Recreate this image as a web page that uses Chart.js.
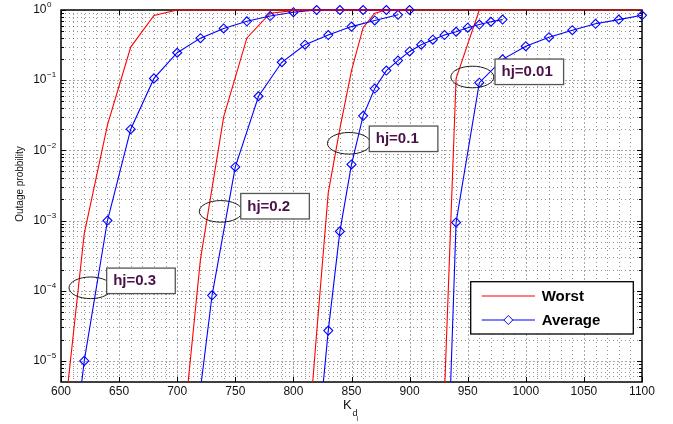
<!DOCTYPE html>
<html>
<head>
<meta charset="utf-8">
<script src="https://cdn.jsdelivr.net/npm/chart.js@4.4.0/dist/chart.umd.min.js"></script>
<style>
  html, body { margin: 0; padding: 0; background: #fff; }
</style>
</head>
<body>
<canvas id="chart" width="673" height="424"></canvas>
<script>
// values: K_di on x, outage probability on y
const kAvg03 = [600, 620, 640, 660, 680, 700, 720, 740, 760, 780, 800, 820, 840, 860, 880, 900];
const pAvg03 = [1.6e-8, 1e-5, 1e-3, 0.02, 0.106, 0.246, 0.397, 0.546, 0.69, 0.82, 0.93, 1, 1, 1, 1, 1];

const kAvg02 = [710, 730, 750, 770, 790, 810, 830, 850, 870, 890];
const pAvg02 = [1.8e-7, 8.6e-5, 5.8e-3, 0.059, 0.18, 0.32, 0.44, 0.58, 0.71, 0.855];

const kAvg01 = [820, 830, 840, 850, 860, 870, 880, 890, 900, 910, 920, 930, 940, 950, 960, 970, 980];
const pAvg01 = [5e-7, 2.7e-5, 7e-4, 6.3e-3, 0.031, 0.076, 0.137, 0.19, 0.257, 0.32, 0.377, 0.44, 0.49, 0.56, 0.62, 0.68, 0.73];

const kAvg001 = [920, 940, 960, 980, 1000, 1020, 1040, 1060, 1080, 1100];
const pAvg001 = [1.4e-13, 9.4e-4, 0.092, 0.198, 0.305, 0.41, 0.516, 0.636, 0.73, 0.84];

const kWorst03 = [600, 620, 640, 660, 680, 700, 720, 740, 760, 780, 800, 820, 840, 860, 880, 900];
const pWorst03 = [5.8e-7, 6.5e-4, 0.023, 0.296, 0.835, 1, 1, 1, 1, 1, 1, 1, 1, 1, 1, 1];

const kWorst02 = [700, 720, 740, 760, 780, 800, 820, 840, 860, 880, 900];
const pWorst02 = [1.4e-7, 2.8e-4, 0.03, 0.40, 0.90, 0.98, 1, 1, 1, 1, 1];

const kWorst01 = [810, 820, 830, 840, 850, 860, 870, 880, 900, 920, 940, 960, 980];
const pWorst01 = [2.1e-7, 2.5e-5, 2.5e-3, 0.0204, 0.137, 0.56, 0.9, 1, 1, 1, 1, 1, 1];

const kWorst001 = [920, 930, 940, 950, 960, 980, 1000, 1020, 1040, 1060, 1080, 1100];
const pWorst001 = [1e-10, 3.4e-6, 0.105, 0.326, 1, 1, 1, 1, 1, 1, 1, 1];

const xTicks = [600, 650, 700, 750, 800, 850, 900, 950, 1000, 1050, 1100];
const yDecades = [-5, -4, -3, -2, -1, 0];

// callouts: ellipse centre and box corner, both in data units
const callouts = [
  { text: 'hj=0.3',  ek: 625.4, ep: 1.1e-4,  bk: 639.3, bp: 2.1e-4 },
  { text: 'hj=0.2',  ek: 737.5, ep: 1.35e-3, bk: 754.7, bp: 2.43e-3 },
  { text: 'hj=0.1',  ek: 847.8, ep: 0.0126,  bk: 865.3, bp: 0.0222 },
  { text: 'hj=0.01', ek: 954,   ep: 0.111,   bk: 973.5, bp: 0.2 }
];

const FONT = "'Liberation Sans', Arial, Helvetica, sans-serif";
const RED = '#ff0000';
const BLUE = '#0000ff';

const pts = (ks, ps) => ks.map((k, i) => ({ x: k, y: ps[i] }));
const clipBox = { left: 0, top: 6, right: 6, bottom: 0 };

function worst(ks, ps) {
  return { label: 'Worst', data: pts(ks, ps), borderColor: RED, borderWidth: 1.1,
    pointRadius: 0, tension: 0, clip: clipBox };
}
function average(ks, ps) {
  return { label: 'Average', data: pts(ks, ps), borderColor: BLUE, borderWidth: 1.1,
    pointStyle: 'rectRot', pointRadius: 4.5, pointBorderWidth: 1.1,
    pointBorderColor: BLUE, pointBackgroundColor: 'rgba(0,0,0,0)', tension: 0, clip: clipBox };
}

const decor = {
  id: 'decor',
  beforeDatasetsDraw(chart) {
    const { ctx, chartArea: a, scales: { x, y } } = chart;
    ctx.save();
    ctx.lineWidth = 1;
    // vertical grid every 10
    for (let k = 610; k < 1100; k += 10) {
      const px = Math.round(x.getPixelForValue(k)) + 0.5;
      const major = k % 50 === 0;
      ctx.strokeStyle = major ? '#a8a8a8' : 'rgba(0,0,0,0.42)';
      ctx.setLineDash(major ? [2, 2] : [1, 3]);
      ctx.beginPath(); ctx.moveTo(px, a.top); ctx.lineTo(px, a.bottom); ctx.stroke();
    }
    // horizontal log grid
    for (let e = -6; e <= 0; e++) {
      for (let m = 1; m <= 9; m++) {
        const v = m * Math.pow(10, e);
        if (v <= y.min * 1.0001 || v >= y.max * 0.9999) continue;
        const py = Math.round(y.getPixelForValue(v)) + 0.5;
        const major = m === 1;
        ctx.strokeStyle = major ? '#a8a8a8' : 'rgba(0,0,0,0.42)';
        ctx.setLineDash(major ? [2, 2] : [1, 3]);
        ctx.beginPath(); ctx.moveTo(a.left, py); ctx.lineTo(a.right, py); ctx.stroke();
      }
    }
    ctx.setLineDash([]);
    // frame
    ctx.strokeStyle = '#000';
    ctx.lineWidth = 1.5;
    ctx.strokeRect(a.left, a.top, a.right - a.left, a.bottom - a.top);
    // tick marks inside
    ctx.lineWidth = 1;
    ctx.beginPath();
    xTicks.forEach(k => {
      const px = Math.round(x.getPixelForValue(k)) + 0.5;
      ctx.moveTo(px, a.bottom); ctx.lineTo(px, a.bottom - 5);
      ctx.moveTo(px, a.top); ctx.lineTo(px, a.top + 5);
    });
    for (let e = -6; e <= 0; e++) {
      for (let m = 1; m <= 9; m++) {
        const v = m * Math.pow(10, e);
        if (v < y.min || v > y.max) continue;
        const py = Math.round(y.getPixelForValue(v)) + 0.5;
        const len = m === 1 ? 5 : 3;
        ctx.moveTo(a.left, py); ctx.lineTo(a.left + len, py);
        ctx.moveTo(a.right, py); ctx.lineTo(a.right - len, py);
      }
    }
    ctx.stroke();
    ctx.restore();
  },
  afterDatasetsDraw(chart) {
    const { ctx, scales: { x, y } } = chart;
    ctx.save();
    callouts.forEach(c => {
      const ex = x.getPixelForValue(c.ek), ey = y.getPixelForValue(c.ep);
      ctx.strokeStyle = '#1a1a1a';
      ctx.lineWidth = 1;
      ctx.beginPath();
      ctx.ellipse(ex, ey, 21.5, 10.8, 0, 0, Math.PI * 2);
      ctx.stroke();
      const bx = x.getPixelForValue(c.bk), by = y.getPixelForValue(c.bp);
      ctx.fillStyle = '#fff';
      ctx.fillRect(bx, by, 68.6, 25.5);
      ctx.strokeStyle = '#555';
      ctx.lineWidth = 1.3;
      ctx.strokeRect(bx, by, 68.6, 25.5);
      ctx.fillStyle = '#4b1248';
      ctx.font = 'bold 15px ' + FONT;
      ctx.textAlign = 'left';
      ctx.textBaseline = 'middle';
      ctx.fillText(c.text, bx + 6.5, by + 13);
    });
    ctx.restore();
  },
  afterDraw(chart) {
    const { ctx, chartArea: a, scales: { x, y } } = chart;
    ctx.save();
    ctx.fillStyle = '#111';
    // x tick labels
    ctx.font = '12px ' + FONT;
    ctx.textAlign = 'center';
    ctx.textBaseline = 'middle';
    xTicks.forEach(k => ctx.fillText(String(k), x.getPixelForValue(k), a.bottom + 10));
    // y tick labels 10^e
    yDecades.forEach(e => {
      const py = y.getPixelForValue(Math.pow(10, e));
      ctx.font = '12px ' + FONT;
      ctx.textAlign = 'right';
      ctx.fillText('10', a.left - 14.5, py);
      ctx.font = '8px ' + FONT;
      ctx.textAlign = 'left';
      ctx.fillText(e === 0 ? '0' : '\u2212' + Math.abs(e), a.left - 14, py - 5);
    });
    // y title
    ctx.save();
    ctx.translate(20, 184);
    ctx.rotate(-Math.PI / 2);
    ctx.font = '10px ' + FONT;
    ctx.textAlign = 'center';
    ctx.fillText('Outage probbility', 0, 0);
    ctx.restore();
    // x title K_{d_i}
    ctx.textAlign = 'left';
    ctx.font = '13px ' + FONT;
    ctx.fillText('K', 343, 405);
    ctx.font = '9px ' + FONT;
    ctx.fillText('d', 352.5, 413.5);
    ctx.font = '7px ' + FONT;
    ctx.fillText('i', 356.5, 419);
    // legend
    const lx = a.right - 171.3, ly = a.bottom - 100.3, lw = 162.6, lh = 52.3;
    ctx.fillStyle = '#fff';
    ctx.fillRect(lx, ly, lw, lh);
    ctx.strokeStyle = '#000';
    ctx.lineWidth = 1.3;
    ctx.strokeRect(lx, ly, lw, lh);
    ctx.lineWidth = 1;
    ctx.strokeStyle = RED;
    ctx.beginPath(); ctx.moveTo(lx + 11, ly + 14.3); ctx.lineTo(lx + 64.3, ly + 14.3); ctx.stroke();
    ctx.strokeStyle = BLUE;
    ctx.beginPath(); ctx.moveTo(lx + 11, ly + 38.3); ctx.lineTo(lx + 64.3, ly + 38.3); ctx.stroke();
    const dx = lx + 37.6, dy = ly + 38.3, r = 4.5;
    ctx.beginPath();
    ctx.moveTo(dx, dy - r); ctx.lineTo(dx + r, dy); ctx.lineTo(dx, dy + r); ctx.lineTo(dx - r, dy); ctx.closePath();
    ctx.fillStyle = '#fff'; ctx.fill(); ctx.stroke();
    ctx.fillStyle = '#000';
    ctx.font = 'bold 15px ' + FONT;
    ctx.textBaseline = 'middle';
    ctx.fillText('Worst', lx + 71, ly + 15);
    ctx.fillText('Average', lx + 71, ly + 39);
    ctx.restore();
  }
};

new Chart(document.getElementById('chart'), {
  type: 'line',
  data: {
    datasets: [
      worst(kWorst03, pWorst03), average(kAvg03, pAvg03),
      worst(kWorst02, pWorst02), average(kAvg02, pAvg02),
      worst(kWorst01, pWorst01), average(kAvg01, pAvg01),
      worst(kWorst001, pWorst001), average(kAvg001, pAvg001)
    ]
  },
  options: {
    responsive: false,
    animation: false,
    devicePixelRatio: 1,
    layout: { padding: { top: 10, right: 31, bottom: 0, left: 0 } },
    plugins: { legend: { display: false }, tooltip: { enabled: false } },
    scales: {
      x: {
        type: 'linear', min: 600, max: 1100,
        grid: { display: false }, border: { display: false },
        ticks: { display: false },
        afterFit(s) { s.height = 42; }
      },
      y: {
        type: 'logarithmic', min: 5e-6, max: 1,
        grid: { display: false }, border: { display: false },
        ticks: { display: false },
        afterFit(s) { s.width = 61; }
      }
    }
  },
  plugins: [decor]
});
</script>
</body>
</html>
